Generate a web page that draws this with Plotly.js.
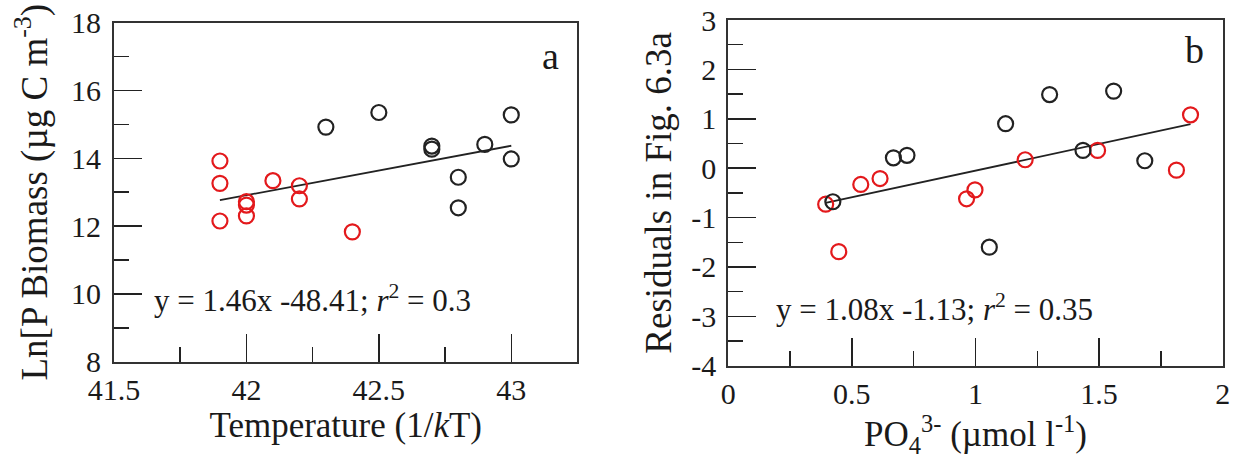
<!DOCTYPE html>
<html><head><meta charset="utf-8">
<script src="https://cdn.plot.ly/plotly-3.0.1.min.js"></script>
<style>html,body{margin:0;padding:0;background:#fff}</style>
</head><body><div id="chart" style="width:1235px;height:462px"></div>
<script>
// Panel a: temperature (1/kT) vs Ln[P biomass]
const tempRed = [41.9, 41.9, 41.9, 42.0, 42.0, 42.0, 42.1, 42.2, 42.2, 42.4];
const biomassRed = [13.92, 13.26, 12.15, 12.72, 12.62, 12.30, 13.34, 13.19, 12.80, 11.83];
const tempBlack = [42.3, 42.5, 42.7, 42.7, 42.8, 42.8, 42.9, 43.0, 43.0];
const biomassBlack = [14.92, 15.35, 14.36, 14.27, 13.44, 12.54, 14.41, 15.28, 13.98];
const fitA = [1.46, -48.41]; // slope, intercept

// Panel b: PO4 vs residuals
const po4Red = [0.394, 0.447, 0.536, 0.614, 0.964, 0.998, 1.201, 1.494, 1.813, 1.870];
const residRed = [-0.73, -1.69, -0.33, -0.21, -0.62, -0.44, 0.17, 0.36, -0.04, 1.08];
const po4Black = [0.423, 0.668, 0.723, 1.056, 1.122, 1.30, 1.435, 1.559, 1.685];
const residBlack = [-0.68, 0.21, 0.26, -1.60, 0.90, 1.49, 0.36, 1.56, 0.15];
const fitB = [1.08, -1.13];

const residTickVals = [-4, -3, -2, -1, 0, 1, 2, 3];
const residTickText = ['-4', '-3', '-2', '-1', '0', '1', '2', '3'];

const FONT = 'Liberation Serif, Times New Roman, serif';
const RED = '#e3191c', BLACK = '#222222', TXT = '#1a1a1a';

function fitLine(xs, f) {
  const lo = Math.min(...xs), hi = Math.max(...xs);
  return {x: [lo, hi], y: [f[0] * lo + f[1], f[0] * hi + f[1]]};
}
function pts(x, y, color, xa, ya) {
  return {x: x, y: y, xaxis: xa, yaxis: ya, type: 'scatter', mode: 'markers', showlegend: false,
    marker: {symbol: 'circle-open', size: 15, color: color, line: {width: 2.2, color: color}}, hoverinfo: 'skip'};
}
function line(l, xa, ya) {
  return {x: l.x, y: l.y, xaxis: xa, yaxis: ya, type: 'scatter', mode: 'lines', showlegend: false,
    line: {color: BLACK, width: 1.8}, hoverinfo: 'skip'};
}
const allTemp = tempRed.concat(tempBlack);
const allPo4 = po4Red.concat(po4Black);

const data = [
  line(fitLine(allTemp, fitA), 'x', 'y'),
  pts(tempRed, biomassRed, RED, 'x', 'y'),
  pts(tempBlack, biomassBlack, BLACK, 'x', 'y'),
  line(fitLine(allPo4, fitB), 'x2', 'y2'),
  pts(po4Red, residRed, RED, 'x2', 'y2'),
  pts(po4Black, residBlack, BLACK, 'x2', 'y2')
];

function axis(extra, minorDtick) {
  return Object.assign({
    showline: true, mirror: true, linecolor: '#333', linewidth: 2,
    ticks: 'inside', ticklen: 28, tickwidth: 1.5, tickcolor: '#222',
    showgrid: false, zeroline: false, fixedrange: true, automargin: false,
    tickfont: {family: FONT, size: 30, color: TXT},
    minor: {ticks: 'inside', ticklen: 15, tickwidth: 1.5, tickcolor: '#222', showgrid: false, dtick: minorDtick}
  }, extra);
}
const titleFont = {family: FONT, size: 37, color: TXT};
const xTitleFont = {family: FONT, size: 35, color: TXT};

const layout = {
  width: 1235, height: 462,
  margin: {l: 0, r: 0, t: 0, b: 0},
  paper_bgcolor: '#fff', plot_bgcolor: '#fff',
  font: {family: FONT, size: 30, color: TXT},
  xaxis: axis({domain: [0.0923, 0.4676], range: [41.5, 43.25], tick0: 41.5, dtick: 0.5, anchor: 'y',
    title: {text: 'Temperature (1/<i>k</i>T)', font: xTitleFont, standoff: 6}}, 0.25),
  yaxis: axis({domain: [0.2171, 0.9509], range: [8, 18], tick0: 8, dtick: 2, anchor: 'x', ticklabelstandoff: 5,
    title: {text: 'Ln[P Biomass (µg C m<sup>-3</sup>)', font: titleFont, standoff: 12}}, 1),
  xaxis2: axis({domain: [0.5897, 0.99], range: [0, 2], tick0: 0, dtick: 0.5, anchor: 'y2',
    title: {text: 'PO<sub>4</sub><sup>3-</sup> (µmol l<sup>-1</sup>)', font: xTitleFont, standoff: 10}}, 0.25),
  yaxis2: axis({domain: [0.2084, 0.9567], range: [-4, 3], tickmode: 'array', tickvals: residTickVals, ticktext: residTickText, anchor: 'x2', ticklabelstandoff: 4,
    title: {text: 'Residuals in Fig. 6.3a', font: titleFont, standoff: 8}}, 0.5),
  annotations: [
    {xref: 'x domain', yref: 'y domain', x: 0.941, y: 0.902, xanchor: 'center', yanchor: 'middle', text: 'a', showarrow: false, font: {family: FONT, size: 38, color: TXT}},
    {xref: 'x2 domain', yref: 'y2 domain', x: 0.944, y: 0.913, xanchor: 'center', yanchor: 'middle', text: 'b', showarrow: false, font: {family: FONT, size: 38, color: TXT}},
    {xref: 'x domain', yref: 'y domain', x: 0.082, y: 0.185, xanchor: 'left', yanchor: 'middle', text: 'y = 1.46x -48.41; <i>r</i><sup>2</sup> = 0.3', showarrow: false, font: {family: FONT, size: 31, color: TXT}},
    {xref: 'x2 domain', yref: 'y2 domain', x: 0.092, y: 0.167, xanchor: 'left', yanchor: 'middle', text: 'y = 1.08x -1.13; <i>r</i><sup>2</sup> = 0.35', showarrow: false, font: {family: FONT, size: 31, color: TXT}}
  ]
};

Plotly.newPlot('chart', data, layout, {displayModeBar: false, staticPlot: true});
</script>
</body></html>
